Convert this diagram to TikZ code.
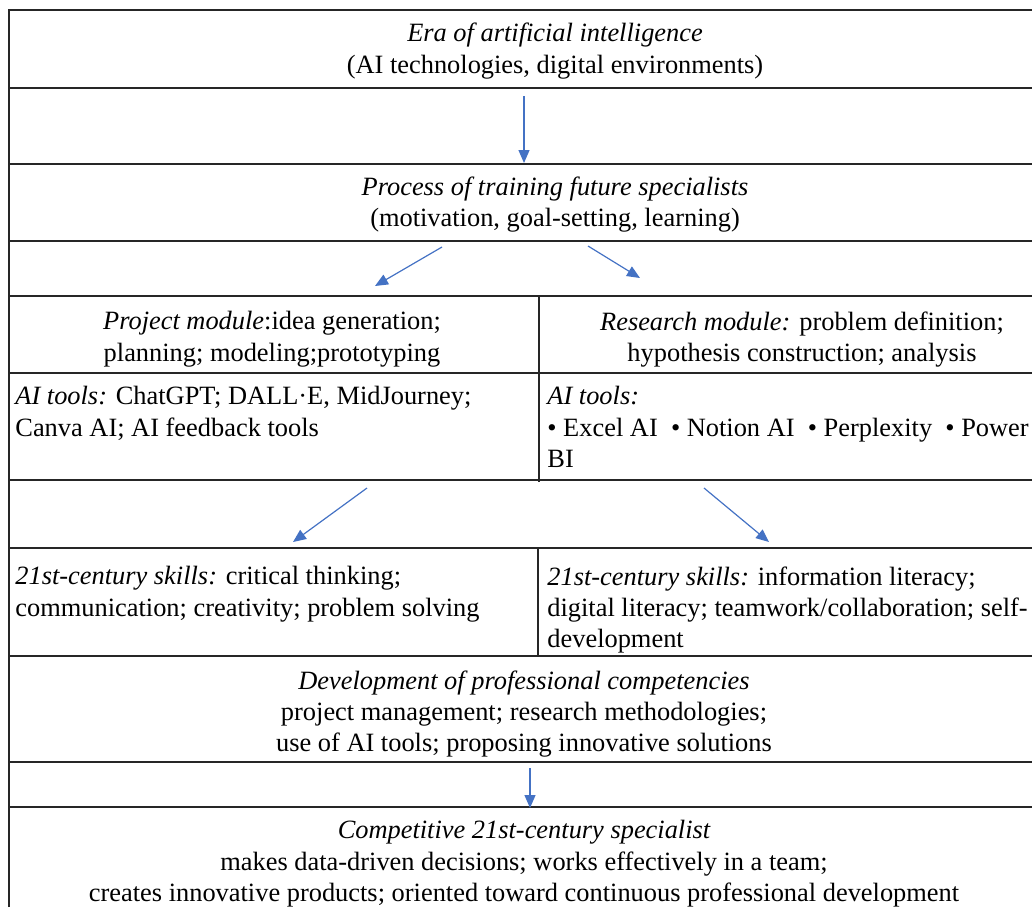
\documentclass[tikz,border=0pt]{standalone}
\usepackage{fontspec}
\setmainfont{Liberation Serif}
\usetikzlibrary{arrows.meta}
\definecolor{arr}{HTML}{4472C4}
\begin{document}
\begin{tikzpicture}[x=0.5pt,y=-0.5pt,
  rule/.style={line width=0.95pt, draw=black!85},
  txt/.style={inner sep=0pt, font=\fontsize{13.2}{15.7}\selectfont, text=black},
  ctr/.style={txt, align=center, anchor=north},
  lft/.style={txt, align=left, anchor=north west},
  flow/.style={draw=arr, line width=0.6pt, -{Triangle[length=6.5pt,width=5.5pt]}}]
\useasboundingbox (0,0) rectangle (1032,907);
% table rules
\draw[rule] (9,907) -- (9,10) -- (1032,10);
\foreach \y in {88,164,241,296,373,480,548,656,762,807} \draw[rule] (9,\y) -- (1032,\y);
\draw[rule] (539,296) -- (539,482);
\draw[rule] (538,548) -- (538,656);
% texts
\node[ctr] (era) at (555,23) {{\itshape Era of artificial intelligence}\\(AI technologies, digital environments)};
\node[ctr] (proc) at (555,176) {{\itshape Process of training future specialists}\\(motivation, goal-setting, learning)};
\node[ctr] (proj) at (272,311) {{\itshape Project module}:idea generation;\\planning; modeling;prototyping};
\node[ctr] (res) at (802,311) {{\itshape Research module:} problem definition;\\hypothesis construction; analysis};
\node[lft] (ptools) at (15,386) {{\itshape AI tools:} ChatGPT; DALL·E, MidJourney;\\Canva AI; AI feedback tools};
\node[lft] (rtools) at (547,386) {{\itshape AI tools:}\\• Excel AI~ • Notion AI~ • Perplexity~ • Power\\BI};
\node[lft] (pskills) at (15,566) {{\itshape 21st-century skills:} critical thinking;\\communication; creativity; problem solving};
\node[lft] (rskills) at (547,566) {{\itshape 21st-century skills:} information literacy;\\digital literacy; teamwork/collaboration; self-\\development};
\node[ctr] (dev) at (524,670) {{\itshape Development of professional competencies}\\project management; research methodologies;\\use of AI tools; proposing innovative solutions};
\node[ctr] (spec) at (524,820) {{\itshape Competitive 21st-century specialist}\\makes data-driven decisions; works effectively in a team;\\creates innovative products; oriented toward continuous professional development};
% arrow ends
\coordinate (e1) at (524,96);  \coordinate (p1) at (524,163);
\coordinate (e2l) at (442,247); \coordinate (p2l) at (375,286);
\coordinate (e2r) at (588,246); \coordinate (p2r) at (640,278);
\coordinate (e3l) at (367,488); \coordinate (p3l) at (293,542);
\coordinate (e3r) at (704,488); \coordinate (p3r) at (769,542);
\coordinate (e4) at (530,768);  \coordinate (p4) at (530,808);
\draw[flow] (e1) -- (p1);
\draw[flow] (e2l) -- (p2l);
\draw[flow] (e2r) -- (p2r);
\draw[flow] (e3l) -- (p3l);
\draw[flow] (e3r) -- (p3r);
\draw[flow] (e4) -- (p4);
\end{tikzpicture}
\end{document}
